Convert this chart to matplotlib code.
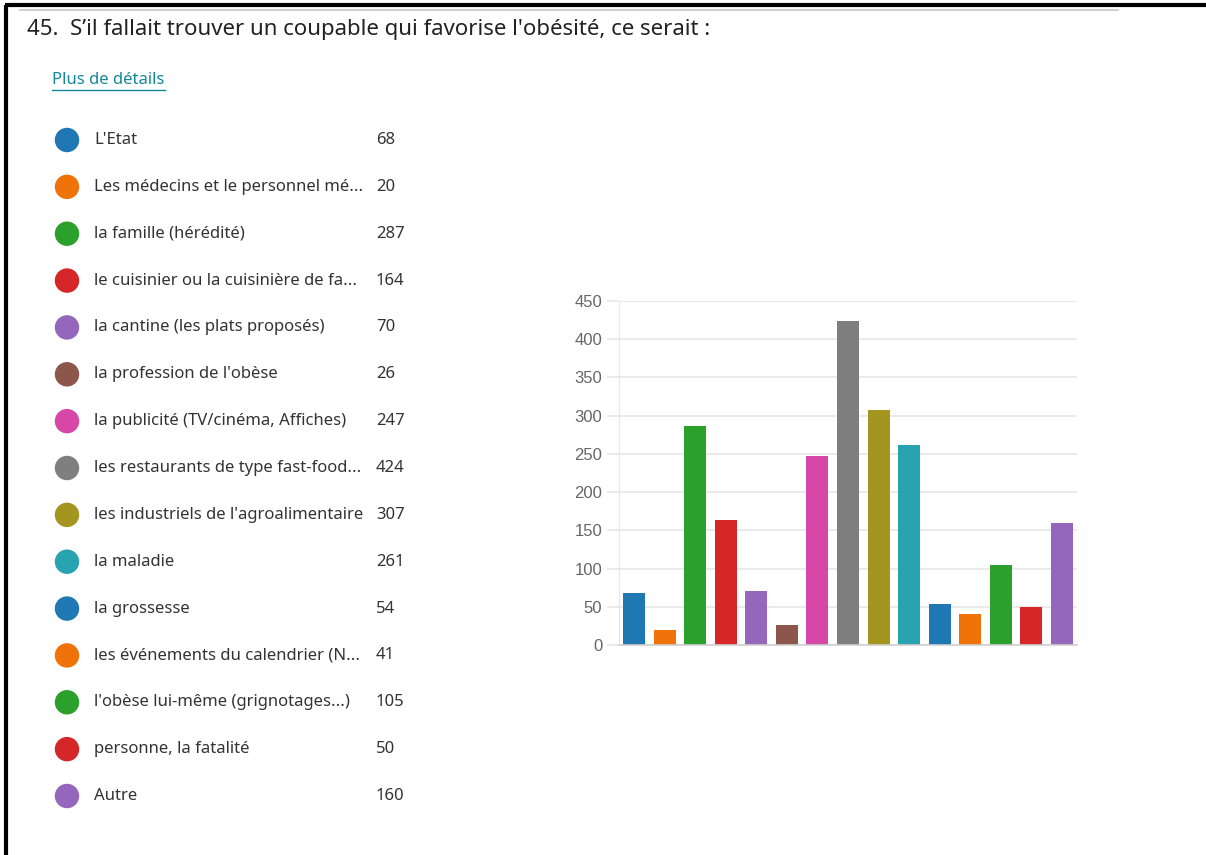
import matplotlib.pyplot as plt
import numpy as np

labels = ["L'Etat", "Les médecins et le personnel mé...", "la famille (hérédité)",
          "le cuisinier ou la cuisinière de fa...", "la cantine (les plats proposés)",
          "la profession de l'obèse", "la publicité (TV/cinéma, Affiches)",
          "les restaurants de type fast-food...", "les industriels de l'agroalimentaire",
          "la maladie", "la grossesse", "les événements du calendrier (N...",
          "l'obèse lui-même (grignotages...)", "personne, la fatalité", "Autre"]
values = [68, 20, 287, 164, 70, 26, 247, 424, 307, 261, 54, 41, 105, 50, 160]
colors = ['#1f77b4', '#ef7309', '#2ca02c', '#d62728', '#9467bd', '#8c564b', '#d647a7',
          '#7f7f7f', '#a3951f', '#2aa3b0', '#1f77b4', '#ef7309', '#2ca02c', '#d62728', '#9467bd']
yticks = [0, 50, 100, 150, 200, 250, 300, 350, 400, 450]

W, H = 1206, 855
fig = plt.figure(figsize=(W / 100, H / 100), dpi=100)
plt.rcParams['font.family'] = ['Noto Sans', 'DejaVu Sans']

# frame lines (screenshot border)
bg = fig.add_axes([0, 0, 1, 1])
bg.set_xlim(0, W)
bg.set_ylim(H, 0)
bg.axis('off')
bg.plot([5, W], [5, 5], color='black', lw=3, solid_capstyle='butt')
bg.plot([6, 6], [5, H], color='black', lw=3, solid_capstyle='butt')
bg.plot([20, 1118], [10.5, 10.5], color='#d0d0d0', lw=1.5)
bg.text(27, 29, "45.  S’il fallait trouver un coupable qui favorise l'obésité, ce serait :",
        fontsize=16, color='#222222', va='center', ha='left')
bg.text(52, 80, "Plus de détails", fontsize=12, color='#13889a', va='center', ha='left')
bg.plot([52, 165], [90, 90], color='#13889a', lw=1)

# legend list
n = len(labels)
row_top, row_bot = 140, 796
step = (row_bot - row_top) / (n - 1)
leg = fig.add_axes([0, 1 - (row_bot + step / 2) / H, 1, (row_bot - row_top + step) / H])
leg.set_xlim(0, W)
leg.set_ylim(n - 0.5, -0.5)
leg.axis('off')
idx = np.arange(n)
leg.scatter(np.full(n, 67), idx, s=310, c=colors, linewidths=0)
for i in idx:
    leg.text(94, i, labels[i], fontsize=12, color='#333333', va='center', ha='left')
    leg.text(376, i, str(values[i]), fontsize=12, color='#333333', va='center', ha='left')

# bar chart
ax = fig.add_axes([619 / W, 1 - 645 / H, (1077 - 619) / W, (645 - 301) / H])
ax.bar(idx, values, width=0.72, color=colors)
ax.set_xlim(-0.5, n - 0.5)
ax.set_ylim(0, 450)
ax.set_yticks(yticks)
ax.set_xticks([])
ax.grid(axis='y', color='#e6e6e6', lw=1.2)
ax.set_axisbelow(True)
for s in ['top', 'right']:
    ax.spines[s].set_visible(False)
ax.spines['left'].set_color('#e6e6e6')
ax.spines['bottom'].set_color('#d0d0d0')
ax.spines['bottom'].set_linewidth(1.2)
ax.tick_params(axis='y', length=9, color='#e6e6e6', width=1.2, pad=3,
               labelsize=12, labelcolor='#666666')
for t in ax.get_yticklabels():
    t.set_family(['Liberation Sans', 'DejaVu Sans'])

fig.savefig('out.png', dpi=100)
